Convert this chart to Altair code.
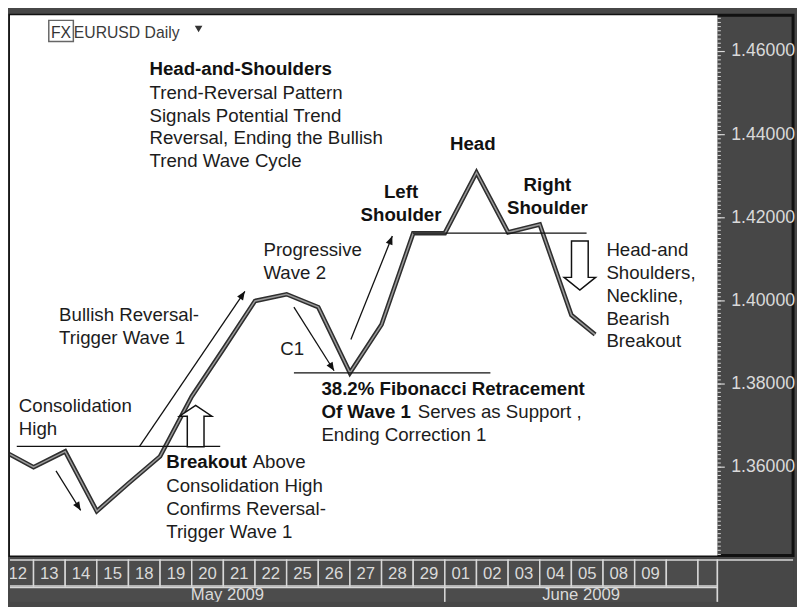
import math
import altair as alt
import pandas as pd

# ---------------- data ----------------
day_labels = ["12", "13", "14", "15", "18", "19", "20", "21", "22", "25", "26", "27", "28", "29",
              "01", "02", "03", "04", "05", "08", "09", "", ""]
month_labels = ["May 2009", "June 2009"]

# price path vertices (bar-boundary slot index, EURUSD price)
slots = [-1, 0, 1, 2, 3, 4, 5, 6, 7, 8, 9, 10, 11, 12, 13, 14, 15, 16, 17, 17.75]
prices = [1.3641, 1.3600, 1.3638, 1.3494, 1.3561, 1.3626, 1.3770, 1.3884, 1.4000, 1.4016,
          1.3985, 1.3827, 1.3943, 1.4163, 1.4163, 1.4309, 1.4165, 1.4184, 1.3966, 1.3919]

y_major = [1.36, 1.38, 1.40, 1.42, 1.44, 1.46]
y_minor = [round(1.339 + 0.001 * i, 3) for i in range(130)]

# horizontal key levels: start slot, end slot, price
level_u = [-0.53, 8.23, 11.99]
level_u2 = [5.90, 14.44, 17.48]
level_p = [1.3650, 1.3827, 1.4163]

# thin arrows: from (u, p) to (u2, p2)
arrow_u = [0.71, 3.35, 8.23, 10.03]
arrow_p = [1.3591, 1.3650, 1.3985, 1.3907]
arrow_u2 = [1.49, 6.68, 9.50, 11.34]
arrow_p2 = [1.3496, 1.4023, 1.3832, 1.4156]

# ---------------- layout ----------------
PW, W, H = 720, 797, 550          # plot (white) width, full width, height
XD = [-0.745, 21.615]             # slot range of the white plot area
YD = [1.338723, 1.468747]
PX_U = PW / (XD[1] - XD[0])
PX_P = H / (YD[1] - YD[0])
XFULL = [XD[0], XD[0] + W / PX_U]
xs = alt.Scale(domain=XFULL, nice=False, zero=False)
ys = alt.Scale(domain=YD, nice=False, zero=False)

FONT = "Liberation Sans, Arial, sans-serif"
AXC = "#dadada"
PANEL = "#474747"


def X(f="u"):
    return alt.X(f"{f}:Q", scale=xs, axis=None)


def Y(f="p"):
    return alt.Y(f"{f}:Q", scale=ys, axis=None)


XEDGE = alt.X(datum=XD[1], scale=xs, axis=None)

# white plot area
plot_bg = alt.Chart(pd.DataFrame({"u": [XD[0] - 1], "u2": [XD[1]], "p": [YD[0] - 0.01], "p2": [YD[1] + 0.01]})
                    ).mark_rect(fill="white", clip=True).encode(x=X(), x2="u2:Q", y=Y(), y2="p2:Q")

# price axis (right panel)
major_df = pd.DataFrame({"p": y_major, "lab": [f"{v:.5f}" for v in y_major]})
minor_df = pd.DataFrame({"p": y_minor})
minor_ticks = alt.Chart(minor_df).mark_point(
    shape="M0,0L1,0", size=49, stroke=AXC, strokeWidth=1, filled=False, opacity=1
).encode(x=XEDGE, y=Y())
major_ticks = alt.Chart(major_df).mark_point(
    shape="M0,0L1,0", size=225, stroke=AXC, strokeWidth=1.2, filled=False, opacity=1
).encode(x=XEDGE, y=Y())
major_labels = alt.Chart(major_df).mark_text(
    font=FONT, fontSize=18, color=AXC, align="left", baseline="middle", dx=14
).encode(x=XEDGE, y=Y(), text="lab:N")

line_df = pd.DataFrame({"u": slots, "p": prices})
outline = alt.Chart(line_df).mark_line(
    color="#2e2e2e", strokeWidth=4.6, clip=True, strokeJoin="miter"
).encode(x=X(), y=Y())
inner = alt.Chart(line_df).mark_line(
    color="#9a9a9a", strokeWidth=1.5, clip=True, strokeJoin="miter"
).encode(x=X(), y=Y())

levels_df = pd.DataFrame({"u": level_u, "u2": level_u2, "p": level_p, "p2": level_p})
levels = alt.Chart(levels_df).mark_rule(color="#111", strokeWidth=1.4).encode(
    x=X(), x2="u2:Q", y=Y(), y2="p2:Q")

arr_df = pd.DataFrame({"u": arrow_u, "p": arrow_p, "u2": arrow_u2, "p2": arrow_p2})
arr_df["a"] = [
    math.degrees(math.atan2((b - a) * PX_U, (d - c) * PX_P)) % 360
    for a, b, c, d in zip(arrow_u, arrow_u2, arrow_p, arrow_p2)
]
arr_lines = alt.Chart(arr_df).mark_rule(color="#111", strokeWidth=1.3).encode(
    x=X(), x2="u2:Q", y=Y(), y2="p2:Q")
arr_heads = alt.Chart(arr_df).mark_point(
    shape="M0,0L-0.42,1L0.42,1Z", filled=True, color="#111", size=300, opacity=1
).encode(x=X("u2"), y=Y("p2"), angle=alt.Angle("a:Q", scale=None))

up_df = pd.DataFrame({"u": [5.124], "p": [1.3699]})
up_arrow = alt.Chart(up_df).mark_point(
    shape="M-0.405,1L-0.405,-0.476L-0.786,-0.476L0,-1L0.786,-0.476L0.405,-0.476L0.405,1Z",
    size=1764, filled=True, fill="white", stroke="#111", strokeWidth=1.5, opacity=1
).encode(x=X(), y=Y())
dn_df = pd.DataFrame({"u": [17.267], "p": [1.4085]})
dn_arrow = alt.Chart(dn_df).mark_point(
    shape="M-0.34,-1L0.34,-1L0.34,0.48L0.64,0.48L0,1L-0.64,0.48L-0.34,0.48Z",
    size=2500, filled=True, fill="white", stroke="#111", strokeWidth=1.5, opacity=1
).encode(x=X(), y=Y())

# text blocks
normal_left = pd.DataFrame({
    "u": [3.665, -0.466, 0.807, 7.267, 7.795, 18.106, 12.143, 9.099, 6.925, 4.193],
    "p": [1.44865, 1.37324, 1.39522, 1.41083, 1.38695, 1.41083, 1.37182, 1.36638, 1.35976, 1.35409],
    "t": [
        "Trend-Reversal Pattern\nSignals Potential Trend\nReversal, Ending the Bullish\nTrend Wave Cycle",
        "Consolidation\nHigh",
        "Bullish Reversal-\nTrigger Wave 1",
        "Progressive\nWave 2",
        "C1",
        "Head-and\nShoulders,\nNeckline,\nBearish\nBreakout",
        "Serves as Support ,",
        "Ending Correction 1",
        "Above",
        "Consolidation High\nConfirms Reversal-\nTrigger Wave 1",
    ],
})
bold_left = pd.DataFrame({
    "u": [3.665, 9.099, 4.193],
    "p": [1.45433, 1.37726, 1.35976],
    "t": ["Head-and-Shoulders", "38.2% Fibonacci Retracement\nOf Wave 1", "Breakout"],
})
bold_center = pd.DataFrame({
    "u": [11.615, 13.882, 16.242],
    "p": [1.42478, 1.43636, 1.42643],
    "t": ["Left\nShoulder", "Head", "Right\nShoulder"],
})


def texts(df, **kw):
    return alt.Chart(df).mark_text(
        lineBreak="\n", baseline="alphabetic", font=FONT, fontSize=19, lineHeight=23.3, **kw
    ).encode(x=X(), y=Y(), text="t:N")


t_norm = texts(normal_left, align="left", color="#1c1c1c")
t_bold = texts(bold_left, align="left", fontWeight="bold", color="#111")
t_bc = texts(bold_center, align="center", fontWeight="bold", color="#111")

# header
hdr_box = alt.Chart(pd.DataFrame({"u": [0.87], "p": [1.46496]})).mark_point(
    shape="M-1,-0.86L1,-0.86L1,0.86L-1,0.86Z", size=625, color="#666", strokeWidth=1.5, opacity=1
).encode(x=X(), y=Y())
hdr_fx = alt.Chart(pd.DataFrame({"u": [0.87], "p": [1.46331], "t": ["FX"]})).mark_text(
    font=FONT, fontSize=16, color="#333", baseline="alphabetic", align="center"
).encode(x=X(), y=Y(), text="t:N")
hdr_txt = alt.Chart(pd.DataFrame({"u": [1.273], "p": [1.46331], "t": ["EURUSD Daily"]})).mark_text(
    font=FONT, fontSize=16, color="#3a3a3a", baseline="alphabetic", align="left"
).encode(x=X(), y=Y(), text="t:N")
hdr_tri = alt.Chart(pd.DataFrame({"u": [5.217], "p": [1.46544]})).mark_point(
    shape="triangle-down", filled=True, color="#333", size=60, opacity=1
).encode(x=X(), y=Y())

main = alt.layer(
    plot_bg, minor_ticks, major_ticks, major_labels,
    outline, inner, levels, arr_lines, arr_heads, up_arrow, dn_arrow,
    t_norm, t_bold, t_bc, hdr_box, hdr_fx, hdr_txt, hdr_tri
).properties(
    width=W, height=H,
    view=alt.ViewBackground(fill=PANEL, stroke="#111", strokeWidth=3),
)

# ---------------- date strip ----------------
SH = 44
sys_ = alt.Scale(domain=[0, SH], reverse=True, nice=False, zero=False)

box_l = list(range(-1, len(day_labels) - 1))
box_r = [b + 1 for b in box_l]
box_r[-1] = XD[1]
days_df = pd.DataFrame({"u": box_l, "u2": box_r, "lab": day_labels})
days_df["mid"] = (days_df["u"] + days_df["u2"]) / 2

months_df = pd.DataFrame({"u": [-1.5, 13], "u2": [13, XD[1]], "lab": month_labels,
                          "mid": [(XD[0] + 13) / 2, (13 + XD[1]) / 2]})

day_boxes = alt.Chart(days_df).mark_rect(
    fill="#4c4c4c", stroke="#d8d8d8", strokeWidth=1.5, clip=True
).encode(x=X("u"), x2="u2:Q", y=alt.Y(datum=1.5, scale=sys_, axis=None), y2=alt.Y2(datum=28))
day_text = alt.Chart(days_df).mark_text(
    font=FONT, fontSize=17, color=AXC, baseline="middle", clip=True
).encode(x=X("mid"), y=alt.Y(datum=15.5, scale=sys_, axis=None), text="lab:N")
month_boxes = alt.Chart(months_df).mark_rect(
    fill="#4c4c4c", stroke="#d8d8d8", strokeWidth=1.5, clip=True
).encode(x=X("u"), x2="u2:Q", y=alt.Y(datum=29.5, scale=sys_, axis=None), y2=alt.Y2(datum=50))
month_text = alt.Chart(months_df).mark_text(
    font=FONT, fontSize=17, color=AXC, baseline="middle", clip=True
).encode(x=X("mid"), y=alt.Y(datum=37.5, scale=sys_, axis=None), text="lab:N")
panel = alt.Chart(pd.DataFrame({"u": [XD[1]], "u2": [XD[1] + 5]})).mark_rect(
    fill=PANEL, stroke="#d8d8d8", strokeWidth=1.5, clip=True
).encode(x=X("u"), x2="u2:Q", y=alt.Y(datum=1.5, scale=sys_, axis=None), y2=alt.Y2(datum=60))

strip = alt.layer(month_boxes, day_boxes, panel, day_text, month_text).properties(
    width=W, height=SH,
    view=alt.ViewBackground(fill=PANEL, stroke=None),
)

chart = alt.vconcat(main, strip, spacing=0).properties(
    padding=0, background=PANEL
)

chart.save("out.html", embed_options={"renderer": "svg", "actions": False})
